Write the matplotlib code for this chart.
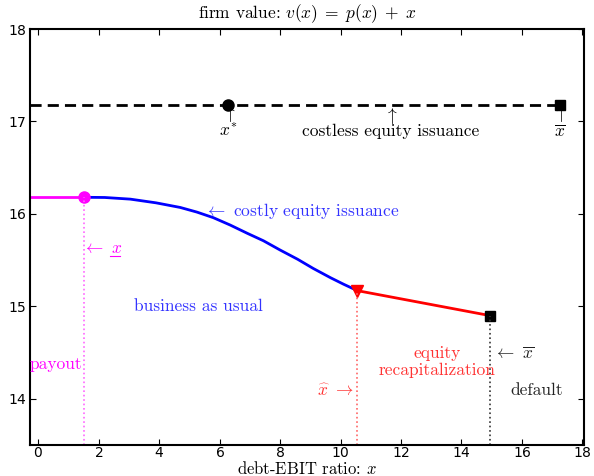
"""Firm value v(x) = p(x) + x across the debt-EBIT ratio."""
import numpy as np
import matplotlib
matplotlib.use("Agg")
import matplotlib.pyplot as plt  # noqa: E402

plt.rcParams["mathtext.fontset"] = "cm"
plt.rcParams["axes.formatter.use_mathtext"] = True

# key thresholds
x_low = 1.52        # payout boundary
x_star = 6.29       # optimal leverage (costless issuance)
x_bar_free = 17.25  # default boundary, costless issuance
x_hat = 10.56       # recapitalization boundary
x_bar = 14.95       # default boundary, costly issuance

v_free = 17.18
v_low = 16.18

# costly issuance: business-as-usual region
bau_x = [1.52, 2.2, 3.05, 3.9, 4.70, 5.25, 5.79, 6.35, 6.92, 7.45, 8.0, 8.58, 9.1, 9.67, 10.1, 10.56]
bau_v = [16.18, 16.178, 16.16, 16.12, 16.07, 16.02, 15.96, 15.88, 15.79, 15.71, 15.61, 15.51, 15.41, 15.31, 15.24, 15.17]

# equity recapitalization region (linear)
rec_x = [10.56, 14.95]
rec_v = [15.17, 14.90]

XLIM = (-0.27, 18.05)
YLIM = (13.5, 18.0)

fig = plt.figure(figsize=(5.94, 4.76), dpi=100)
ax = fig.add_axes([0.0505, 0.065, 0.9325, 0.874])

FS = 12.5
serif = dict(family="cmr10", fontsize=FS)

# costless benchmark
ax.plot([XLIM[0], x_bar_free], [v_free, v_free], "k--", lw=2, dashes=(4, 2.2))
ax.plot(x_star, v_free, "o", color="k", ms=8)
ax.plot(x_bar_free, v_free, "s", color="k", ms=6.5)

# costly issuance
ax.plot([XLIM[0], x_low], [v_low, v_low], color="#ff00ff", lw=2)
ax.plot(bau_x, bau_v, color="#0000ff", lw=2)
ax.plot(rec_x, rec_v, color="#ff0000", lw=2)
ax.plot(x_low, v_low, "o", color="#ff00ff", ms=8)
ax.plot(x_hat, rec_v[0], "v", color="#ff0000", ms=9)
ax.plot(x_bar, rec_v[1], "s", color="k", ms=7)

# region boundaries
ax.plot([x_low, x_low], [YLIM[0], v_low], ":", color="#ff66ff", lw=1.2)
ax.plot([x_hat, x_hat], [YLIM[0], rec_v[0]], ":", color="#ff6666", lw=1.2)
ax.plot([x_bar, x_bar], [YLIM[0], rec_v[1]], ":", color="#333333", lw=1.2)

# annotations
ax.text(x_star, 16.99, "$\\uparrow$\n$x^{*}$", ha="center", va="center",
        fontsize=FS, linespacing=0.85)
ax.text(x_bar_free, 16.99, "$\\uparrow$\n$\\overline{x}$", ha="center", va="center",
        fontsize=FS, linespacing=0.85)
ax.text(11.65, 16.99, "$\\uparrow$\ncostless equity issuance", ha="center", va="center",
        linespacing=0.85, **serif)

ax.text(5.5, 16.03, r"$\leftarrow$ costly equity issuance", ha="left", va="center",
        color="#3333ff", **serif)
ax.text(1.45, 15.63, r"$\leftarrow$ $x$", ha="left", va="center",
        color="#ff00ff", **serif)
ax.plot([2.38, 2.72], [15.545, 15.545], color="#ff00ff", lw=0.8)
ax.text(5.3, 15.0, "business as usual", ha="center", va="center", color="#3333ff", **serif)
ax.text(XLIM[0], 14.37, "payout", ha="left", va="center", color="#ff00ff", **serif)
ax.text(13.18, 14.40, "equity\nrecapitalization", ha="center", va="center",
        color="#ff3333", linespacing=1.15, **serif)
ax.text(10.45, 14.09, r"$\widehat{x}$ $\rightarrow$", ha="right", va="center",
        color="#ff3333", **serif)
ax.text(15.05, 14.49, r"$\leftarrow$ $\overline{x}$", ha="left", va="center",
        color="#222222", **serif)
ax.text(16.49, 14.09, "default", ha="center", va="center", color="#222222", **serif)

ax.set_xlim(*XLIM)
ax.set_ylim(*YLIM)
ax.set_xticks(np.arange(0, 19, 2))
ax.set_yticks(np.arange(14, 19, 1))
ax.tick_params(direction="in", top=True, right=True, length=4, labelsize=10)
ax.tick_params(axis="x", pad=1)
ax.tick_params(axis="y", pad=2.5)
for sp in ax.spines.values():
    sp.set_linewidth(1.5)

ax.set_title(r"firm value: $v(x)\;=\;p(x)\;+\;x$", fontsize=FS, family="cmr10", pad=8)
ax.set_xlabel(r"debt-EBIT ratio: $x$", fontsize=12, family="cmr10")
ax.xaxis.label.set_va("baseline")
ax.xaxis.set_label_coords(0.5, -0.069)

fig.savefig("out.png", dpi=100)
